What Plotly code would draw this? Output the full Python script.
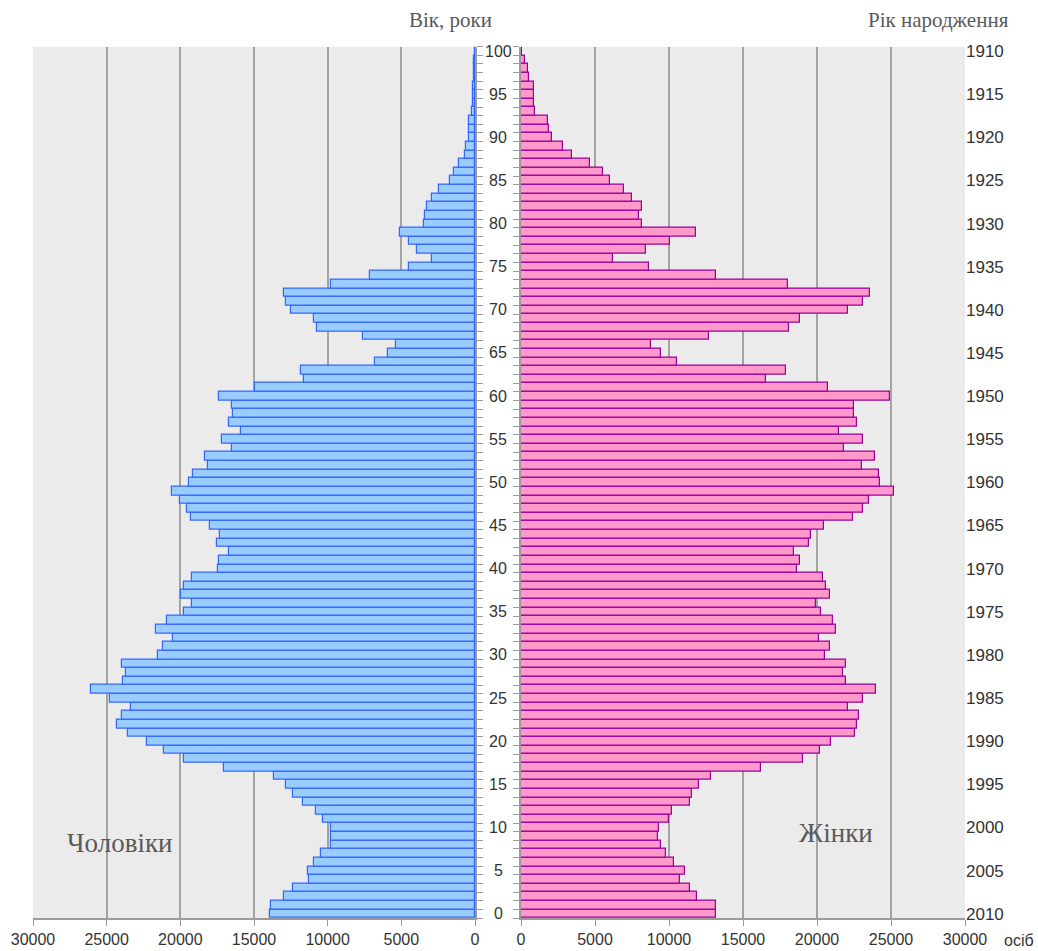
import plotly.graph_objects as go

ages = list(range(0, 101))

male = [13920, 13830, 12950, 12360, 11300, 11350, 10940, 10460, 9790, 9790,
        9790, 10350, 10780, 11660, 12380, 12840, 13670, 17020, 19780, 21110,
        22260, 23550, 24270, 23960, 23350, 24790, 26080, 23890, 23680, 23960,
        21520, 21150, 20500, 21650, 20930, 19780, 19210, 19980, 19780, 19210,
        17450, 17380, 16720, 17520, 17330, 17970, 19280, 19570, 20000, 20590,
        19410, 19140, 18100, 18330, 16520, 17180, 15870, 16720, 16450, 16520,
        17380, 14920, 11590, 11800, 6800, 5920, 5360, 7590, 10740, 10940,
        12520, 12840, 12970, 9790, 7160, 4470, 2940, 3910, 4470, 5060,
        3480, 3410, 3250, 2940, 2460, 1720, 1450, 1060, 700, 630,
        410, 410, 410, 230, 160, 160, 160, 70, 70, 90,
        20]

female = [13150, 13150, 11880, 11390, 10760, 11050, 10350, 9810, 9450, 9250,
          9340, 10030, 10190, 11430, 11570, 12060, 12850, 16190, 19080, 20230,
          20970, 22550, 22710, 22840, 22120, 23140, 23990, 21960, 21740, 21960,
          20520, 20880, 20160, 21310, 21110, 20300, 19960, 20880, 20590, 20390,
          18650, 18850, 18420, 19440, 19570, 20500, 22460, 23140, 23540, 25210,
          24290, 24220, 23070, 23950, 21830, 23140, 21470, 22690, 22530, 22530,
          24960, 20720, 16550, 17930, 10550, 9470, 8790, 12720, 18130, 18850,
          22120, 23140, 23560, 18060, 13150, 8660, 6220, 8460, 10100, 11840,
          8160, 7940, 8190, 7530, 6990, 6000, 5550, 4650, 3470, 2820,
          2100, 1870, 1800, 920, 860, 860, 860, 560, 470, 290,
          90]

x_ticks = [0, 5000, 10000, 15000, 20000, 25000, 30000]
age_ticks = list(range(0, 101, 5))
year_labels = [str(2010 - a) for a in age_ticks]
boundaries = [a - 0.5 for a in range(0, 102)]

W, H = 1038, 951
left_dom = [33 / W, 475 / W]
right_dom = [521 / W, 965 / W]
y_dom = [1 - 918 / H, 1 - 46.7 / H]

grid_col = "#A3A3A3"
axis_col = "#9A9A9A"
tick_font = dict(family="Liberation Sans, Arial, sans-serif", size=16, color="#333333")
year_font = dict(family="Liberation Sans, Arial, sans-serif", size=17, color="#333333")

fig = go.Figure()
fig.add_trace(go.Bar(
    x=male, y=ages, orientation="h", xaxis="x", yaxis="y",
    marker=dict(color="#99CCFF", line=dict(color="#3366FF", width=1.2)),
    width=1, showlegend=False, hoverinfo="x+y"))
fig.add_trace(go.Bar(
    x=female, y=ages, orientation="h", xaxis="x2", yaxis="y2",
    marker=dict(color="#FF99CC", line=dict(color="#990099", width=1.2)),
    width=1, showlegend=False, hoverinfo="x+y"))

common_x = dict(tickvals=x_ticks, ticktext=[str(v) for v in x_ticks],
                showgrid=True, gridcolor=grid_col, gridwidth=1.5,
                ticks="outside", ticklen=6, tickcolor=axis_col, tickwidth=1,
                showline=True, linecolor=axis_col, linewidth=1.5,
                zeroline=False, tickfont=tick_font, automargin=False, fixedrange=True)
common_y = dict(range=[-0.5, 100.5], tickvals=boundaries, showticklabels=False,
                ticks="outside", ticklen=6, tickcolor=axis_col, tickwidth=1,
                showline=True, linecolor=axis_col, linewidth=1.5,
                showgrid=False, zeroline=False, automargin=False, fixedrange=True,
                domain=y_dom)

fig.update_layout(
    width=W, height=H,
    margin=dict(l=0, r=0, t=0, b=0, pad=0),
    paper_bgcolor="white", plot_bgcolor="#EBEBEB",
    bargap=0,
    xaxis=dict(domain=left_dom, range=[30000, 0], anchor="y", **common_x),
    yaxis=dict(anchor="x", side="right", **common_y),
    xaxis2=dict(domain=right_dom, range=[0, 30000], anchor="y2", **common_x),
    yaxis2=dict(anchor="x2", side="left", **common_y),
    yaxis3=dict(overlaying="y2", anchor="x2", side="right", range=[-0.5, 100.5],
                tickvals=age_ticks, ticktext=year_labels, ticks="",
                showgrid=False, zeroline=False, showline=False,
                tickfont=year_font, automargin=False, fixedrange=True),
)
# invisible trace so yaxis3 renders
fig.add_trace(go.Scatter(x=[None], y=[None], xaxis="x2", yaxis="y3",
                         showlegend=False, hoverinfo="skip"))

annotations = []
for a in age_ticks:
    annotations.append(dict(x=498 / W, xref="paper", y=a, yref="y", text=str(a),
                            showarrow=False, xanchor="center", yanchor="middle",
                            font=tick_font))
serif = "Liberation Serif, Times New Roman, serif"
annotations += [
    dict(x=450 / W, y=1 - 20 / H, xref="paper", yref="paper", text="Вік, роки",
         showarrow=False, xanchor="center", yanchor="middle",
         font=dict(family=serif, size=21, color="#595959")),
    dict(x=938 / W, y=1 - 20 / H, xref="paper", yref="paper", text="Рік народження",
         showarrow=False, xanchor="center", yanchor="middle",
         font=dict(family=serif, size=21, color="#595959")),
    dict(x=119 / W, y=1 - 843 / H, xref="paper", yref="paper", text="Чоловіки",
         showarrow=False, xanchor="center", yanchor="middle",
         font=dict(family=serif, size=27, color="#595959")),
    dict(x=836 / W, y=1 - 833 / H, xref="paper", yref="paper", text="Жінки",
         showarrow=False, xanchor="center", yanchor="middle",
         font=dict(family=serif, size=27, color="#595959")),
    dict(x=1019 / W, y=1 - 940 / H, xref="paper", yref="paper", text="осіб",
         showarrow=False, xanchor="center", yanchor="middle", font=tick_font),
]
fig.update_layout(annotations=annotations)

fig.write_html("out.html",
               config={"displayModeBar": False},
               post_script="document.body.style.margin='0';document.body.style.overflow='hidden';")
